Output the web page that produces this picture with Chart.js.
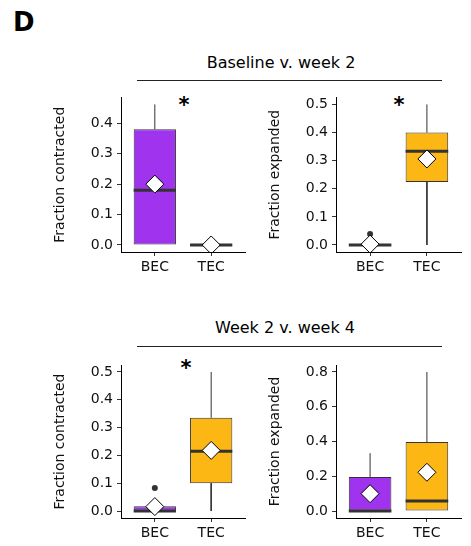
<!DOCTYPE html>
<html><head><meta charset="utf-8">
<script src="https://cdn.jsdelivr.net/npm/chart.js@4.4.0/dist/chart.umd.min.js"></script>
<style>
html,body{margin:0;padding:0;background:#fff;}
body{width:471px;height:546px;position:relative;overflow:hidden;font-family:"DejaVu Sans",sans-serif;}
.abs{position:absolute;line-height:1;white-space:nowrap;color:#000;}
.rule{position:absolute;height:1px;background:#222;}
canvas{position:absolute;}
</style></head><body>
<div class="abs" style="left:13px;top:9px;font-size:26px;font-weight:bold;">D</div>
<div class="abs" style="left:81px;top:55px;width:400px;text-align:center;font-size:16px;">Baseline v. week 2</div>
<div class="rule" style="left:137px;top:80px;width:305px;"></div>
<div class="abs" style="left:85px;top:320px;width:400px;text-align:center;font-size:16px;">Week 2 v. week 4</div>
<div class="rule" style="left:137px;top:346px;width:305px;"></div>
<div class="abs" style="left:164px;top:95px;width:40px;text-align:center;font-size:21px;font-weight:bold;">*</div>
<div class="abs" style="left:379px;top:95px;width:40px;text-align:center;font-size:21px;font-weight:bold;">*</div>
<div class="abs" style="left:166px;top:358px;width:40px;text-align:center;font-size:21px;font-weight:bold;">*</div>
<canvas id="c1" width="255" height="200" style="left:0;top:85px"></canvas>
<canvas id="c2" width="216" height="200" style="left:255px;top:85px"></canvas>
<canvas id="c3" width="255" height="196" style="left:0;top:350px"></canvas>
<canvas id="c4" width="216" height="196" style="left:255px;top:350px"></canvas>
<script>
// ---- data ----
const categories = ['BEC', 'TEC'];
const fillColors = ['#9F33EE', '#FCB714'];

// Panel A: Baseline v. week 2, Fraction contracted
const aMin = [0, 0];
const aQ1 = [0, 0];
const aMedian = [0.18, 0];
const aQ3 = [0.38, 0];
const aMax = [0.462, 0];
const aMean = [0.2, 0];
const aOutliers = [[], []];
const aTicks = [0, 0.1, 0.2, 0.3, 0.4];

// Panel B: Baseline v. week 2, Fraction expanded
const bMin = [0, 0];
const bQ1 = [0, 0.224];
const bMedian = [0, 0.333];
const bQ3 = [0, 0.4];
const bMax = [0, 0.5];
const bMean = [0.003, 0.306];
const bOutliers = [[0.039], []];
const bTicks = [0, 0.1, 0.2, 0.3, 0.4, 0.5];

// Panel C: Week 2 v. week 4, Fraction contracted
const cMin = [0, 0];
const cQ1 = [0, 0.1];
const cMedian = [0, 0.215];
const cQ3 = [0.017, 0.335];
const cMax = [0.017, 0.5];
const cMean = [0.016, 0.218];
const cOutliers = [[0.083], []];
const cTicks = [0, 0.1, 0.2, 0.3, 0.4, 0.5];

// Panel D: Week 2 v. week 4, Fraction expanded
const dMin = [0, 0];
const dQ1 = [0, 0];
const dMedian = [0, 0.058];
const dQ3 = [0.196, 0.397];
const dMax = [0.333, 0.8];
const dMean = [0.1, 0.223];
const dOutliers = [[], []];
const dTicks = [0, 0.2, 0.4, 0.6, 0.8];

// ---- drawing ----
const FONT = '"DejaVu Sans", sans-serif';
function buildDatasets(mn, q1, med, q3, mx, mean, outl) {
  const ds = [];
  const hw = 0.375;
  categories.forEach((c, i) => {
    const x = i + 1;
    ds.push({type: 'line', data: [{x, y: q3[i]}, {x, y: mx[i]}], borderColor: '#333', borderWidth: 1, pointRadius: 0, fill: false, order: 6});
    ds.push({type: 'line', data: [{x, y: q1[i]}, {x, y: mn[i]}], borderColor: '#333', borderWidth: 1, pointRadius: 0, fill: false, order: 6});
    ds.push({type: 'line', data: [{x: x - hw, y: med[i]}, {x: x + hw, y: med[i]}], borderColor: '#333', borderWidth: 3, pointRadius: 0, fill: false, order: 4});
  });
  ds.push({type: 'bar', data: categories.map((c, i) => ({x: i + 1, y: [q1[i], q3[i]]})),
    backgroundColor: fillColors, borderColor: '#333', borderWidth: 1, borderSkipped: false,
    barPercentage: 0.75, categoryPercentage: 1, order: 5});
  const out = [];
  outl.forEach((arr, i) => arr.forEach(v => out.push({x: i + 1, y: v})));
  ds.push({type: 'scatter', data: out, pointRadius: 3, backgroundColor: '#333', borderWidth: 0, order: 3});
  ds.push({type: 'scatter', data: mean.map((v, i) => ({x: i + 1, y: v})), pointStyle: 'rectRot', pointRadius: 9,
    backgroundColor: '#fff', borderColor: '#000', borderWidth: 1, order: 1});
  return ds;
}

function makeChart(id, ds, yTicks, yMin, yMax, yTitle, pad, yWidth) {
  new Chart(document.getElementById(id), {
    type: 'scatter',
    data: {datasets: ds},
    options: {
      responsive: false, animation: false,
      layout: {padding: pad},
      plugins: {legend: {display: false}, tooltip: {enabled: false}},
      scales: {
        x: {
          type: 'linear', min: 0.4, max: 2.6, offset: false, bounds: 'data',
          afterBuildTicks: s => { s.ticks = categories.map((c, i) => ({value: i + 1})); },
          afterFit: s => { s.height = 25; s.paddingLeft = 0; s.paddingRight = 0; },
          ticks: {callback: v => categories[Math.round(v) - 1], color: '#111', font: {family: FONT, size: 14}, padding: 3, maxRotation: 0, minRotation: 0, autoSkip: false},
          grid: {display: true, offset: false, drawOnChartArea: false, drawTicks: true, tickLength: 4, color: '#333'},
          border: {display: true, color: '#000', width: 1}
        },
        y: {
          type: 'linear', min: yMin, max: yMax, offset: false, bounds: 'data',
          afterBuildTicks: s => { s.ticks = yTicks.map(v => ({value: v})); },
          afterFit: s => { s.width = yWidth; },
          ticks: {callback: v => v.toFixed(1), color: '#111', font: {family: FONT, size: 14}, padding: 4, autoSkip: false},
          grid: {display: true, offset: false, drawOnChartArea: false, drawTicks: true, tickLength: 4, color: '#333'},
          border: {display: true, color: '#000', width: 1},
          title: {display: true, text: yTitle, color: '#111', font: {family: FONT, size: 14}, padding: {top: 0, bottom: 0}}
        }
      }
    }
  });
}

makeChart('c1', buildDatasets(aMin, aQ1, aMedian, aQ3, aMax, aMean, aOutliers), aTicks, -0.0231, 0.4851,
  'Fraction contracted', {left: 52.1, top: 12, right: 5, bottom: 8}, 68.9);
makeChart('c2', buildDatasets(bMin, bQ1, bMedian, bQ3, bMax, bMean, bOutliers), bTicks, -0.025, 0.525,
  'Fraction expanded', {left: 12.1, top: 12, right: 7, bottom: 8}, 68.9);
makeChart('c3', buildDatasets(cMin, cQ1, cMedian, cQ3, cMax, cMean, cOutliers), cTicks, -0.025, 0.525,
  'Fraction contracted', {left: 52.1, top: 15, right: 5, bottom: 3}, 68.9);
makeChart('c4', buildDatasets(dMin, dQ1, dMedian, dQ3, dMax, dMean, dOutliers), dTicks, -0.04, 0.84,
  'Fraction expanded', {left: 12.1, top: 15, right: 7, bottom: 3}, 68.9);
</script>
</body></html>
